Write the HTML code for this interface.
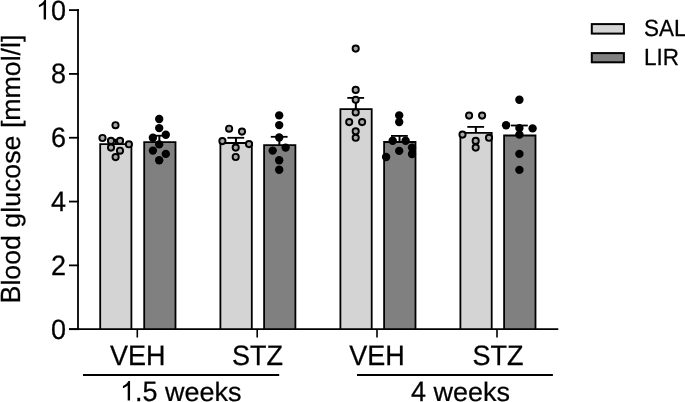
<!DOCTYPE html>
<html><head><meta charset="utf-8"><style>
html,body{margin:0;padding:0;background:#fff;}
body{width:685px;height:402px;overflow:hidden;}
svg{display:block;filter:blur(0.3px);text-rendering:geometricPrecision;}
text{font-family:"Liberation Sans",sans-serif;fill:#000;stroke:#000;stroke-width:0.25px;}
</style></head><body>
<svg width="685" height="402" viewBox="0 0 685 402">
<rect x="100.20" y="144.20" width="31.20" height="185.00" fill="#d4d4d4"/>
<path d="M100.20 329.20V144.20H131.40V329.20" fill="none" stroke="#000" stroke-width="1.8"/>
<rect x="144.20" y="142.10" width="31.30" height="187.10" fill="#808080"/>
<path d="M144.20 329.20V142.10H175.50V329.20" fill="none" stroke="#000" stroke-width="1.8"/>
<rect x="220.40" y="143.00" width="31.40" height="186.20" fill="#d4d4d4"/>
<path d="M220.40 329.20V143.00H251.80V329.20" fill="none" stroke="#000" stroke-width="1.8"/>
<rect x="264.10" y="145.20" width="31.30" height="184.00" fill="#808080"/>
<path d="M264.10 329.20V145.20H295.40V329.20" fill="none" stroke="#000" stroke-width="1.8"/>
<rect x="340.40" y="109.20" width="31.30" height="220.00" fill="#d4d4d4"/>
<path d="M340.40 329.20V109.20H371.70V329.20" fill="none" stroke="#000" stroke-width="1.8"/>
<rect x="384.10" y="142.00" width="31.40" height="187.20" fill="#808080"/>
<path d="M384.10 329.20V142.00H415.50V329.20" fill="none" stroke="#000" stroke-width="1.8"/>
<rect x="460.40" y="132.90" width="31.30" height="196.30" fill="#d4d4d4"/>
<path d="M460.40 329.20V132.90H491.70V329.20" fill="none" stroke="#000" stroke-width="1.8"/>
<rect x="504.10" y="135.50" width="31.40" height="193.70" fill="#808080"/>
<path d="M504.10 329.20V135.50H535.50V329.20" fill="none" stroke="#000" stroke-width="1.8"/>
<line x1="115.75" y1="139.70" x2="115.75" y2="144.30" stroke="#000" stroke-width="2.0"/>
<line x1="107.20" y1="139.70" x2="124.00" y2="139.70" stroke="#000" stroke-width="1.8"/>
<line x1="159.35" y1="135.70" x2="159.35" y2="142.20" stroke="#000" stroke-width="2.0"/>
<line x1="150.80" y1="135.70" x2="167.60" y2="135.70" stroke="#000" stroke-width="1.8"/>
<line x1="235.95" y1="137.80" x2="235.95" y2="143.10" stroke="#000" stroke-width="2.0"/>
<line x1="227.40" y1="137.80" x2="244.20" y2="137.80" stroke="#000" stroke-width="1.8"/>
<line x1="279.35" y1="136.80" x2="279.35" y2="145.30" stroke="#000" stroke-width="2.0"/>
<line x1="270.80" y1="136.80" x2="287.60" y2="136.80" stroke="#000" stroke-width="1.8"/>
<line x1="355.85" y1="97.90" x2="355.85" y2="109.30" stroke="#000" stroke-width="2.0"/>
<line x1="347.30" y1="97.90" x2="364.10" y2="97.90" stroke="#000" stroke-width="1.8"/>
<line x1="399.55" y1="135.90" x2="399.55" y2="142.10" stroke="#000" stroke-width="2.0"/>
<line x1="391.00" y1="135.90" x2="407.80" y2="135.90" stroke="#000" stroke-width="1.8"/>
<line x1="475.85" y1="126.90" x2="475.85" y2="133.00" stroke="#000" stroke-width="2.0"/>
<line x1="467.30" y1="126.90" x2="484.10" y2="126.90" stroke="#000" stroke-width="1.8"/>
<line x1="519.55" y1="125.50" x2="519.55" y2="135.60" stroke="#000" stroke-width="2.0"/>
<line x1="511.00" y1="125.50" x2="527.80" y2="125.50" stroke="#000" stroke-width="1.8"/>
<circle cx="115.50" cy="125.20" r="3.1" fill="#a6a6a6" stroke="#000" stroke-width="1.9"/>
<circle cx="102.50" cy="138.00" r="3.1" fill="#a6a6a6" stroke="#000" stroke-width="1.9"/>
<circle cx="111.00" cy="140.90" r="3.1" fill="#a6a6a6" stroke="#000" stroke-width="1.9"/>
<circle cx="120.00" cy="140.90" r="3.1" fill="#a6a6a6" stroke="#000" stroke-width="1.9"/>
<circle cx="128.90" cy="144.30" r="3.1" fill="#a6a6a6" stroke="#000" stroke-width="1.9"/>
<circle cx="111.00" cy="147.60" r="3.1" fill="#a6a6a6" stroke="#000" stroke-width="1.9"/>
<circle cx="120.00" cy="150.70" r="3.1" fill="#a6a6a6" stroke="#000" stroke-width="1.9"/>
<circle cx="115.60" cy="157.10" r="3.1" fill="#a6a6a6" stroke="#000" stroke-width="1.9"/>
<circle cx="159.20" cy="119.00" r="4.2" fill="#000"/>
<circle cx="159.20" cy="128.10" r="4.2" fill="#000"/>
<circle cx="165.80" cy="134.80" r="4.2" fill="#000"/>
<circle cx="152.90" cy="137.70" r="4.2" fill="#000"/>
<circle cx="159.20" cy="144.40" r="4.2" fill="#000"/>
<circle cx="152.90" cy="150.60" r="4.2" fill="#000"/>
<circle cx="165.80" cy="153.90" r="4.2" fill="#000"/>
<circle cx="159.20" cy="160.30" r="4.2" fill="#000"/>
<circle cx="229.10" cy="128.70" r="3.1" fill="#a6a6a6" stroke="#000" stroke-width="1.9"/>
<circle cx="242.00" cy="131.60" r="3.1" fill="#a6a6a6" stroke="#000" stroke-width="1.9"/>
<circle cx="222.40" cy="141.10" r="3.1" fill="#a6a6a6" stroke="#000" stroke-width="1.9"/>
<circle cx="249.00" cy="144.10" r="3.1" fill="#a6a6a6" stroke="#000" stroke-width="1.9"/>
<circle cx="235.70" cy="147.60" r="3.1" fill="#a6a6a6" stroke="#000" stroke-width="1.9"/>
<circle cx="235.70" cy="157.00" r="3.1" fill="#a6a6a6" stroke="#000" stroke-width="1.9"/>
<circle cx="279.20" cy="115.40" r="4.2" fill="#000"/>
<circle cx="279.20" cy="125.10" r="4.2" fill="#000"/>
<circle cx="279.20" cy="137.50" r="4.2" fill="#000"/>
<circle cx="285.60" cy="147.60" r="4.2" fill="#000"/>
<circle cx="272.70" cy="150.60" r="4.2" fill="#000"/>
<circle cx="279.20" cy="160.30" r="4.2" fill="#000"/>
<circle cx="279.20" cy="169.80" r="4.2" fill="#000"/>
<circle cx="355.70" cy="48.60" r="3.1" fill="#a6a6a6" stroke="#000" stroke-width="1.9"/>
<circle cx="355.70" cy="89.90" r="3.1" fill="#a6a6a6" stroke="#000" stroke-width="1.9"/>
<circle cx="355.70" cy="99.80" r="3.1" fill="#a6a6a6" stroke="#000" stroke-width="1.9"/>
<circle cx="355.70" cy="112.40" r="3.1" fill="#a6a6a6" stroke="#000" stroke-width="1.9"/>
<circle cx="349.20" cy="122.10" r="3.1" fill="#a6a6a6" stroke="#000" stroke-width="1.9"/>
<circle cx="362.10" cy="122.10" r="3.1" fill="#a6a6a6" stroke="#000" stroke-width="1.9"/>
<circle cx="355.70" cy="131.30" r="3.1" fill="#a6a6a6" stroke="#000" stroke-width="1.9"/>
<circle cx="355.70" cy="137.80" r="3.1" fill="#a6a6a6" stroke="#000" stroke-width="1.9"/>
<circle cx="399.20" cy="115.40" r="4.2" fill="#000"/>
<circle cx="399.20" cy="122.10" r="4.2" fill="#000"/>
<circle cx="392.70" cy="140.80" r="4.2" fill="#000"/>
<circle cx="405.60" cy="140.80" r="4.2" fill="#000"/>
<circle cx="412.00" cy="147.60" r="4.2" fill="#000"/>
<circle cx="399.20" cy="150.90" r="4.2" fill="#000"/>
<circle cx="412.00" cy="154.10" r="4.2" fill="#000"/>
<circle cx="386.10" cy="157.00" r="4.2" fill="#000"/>
<circle cx="469.10" cy="115.60" r="3.1" fill="#a6a6a6" stroke="#000" stroke-width="1.9"/>
<circle cx="482.10" cy="115.60" r="3.1" fill="#a6a6a6" stroke="#000" stroke-width="1.9"/>
<circle cx="462.50" cy="134.60" r="3.1" fill="#a6a6a6" stroke="#000" stroke-width="1.9"/>
<circle cx="489.00" cy="137.80" r="3.1" fill="#a6a6a6" stroke="#000" stroke-width="1.9"/>
<circle cx="475.70" cy="140.90" r="3.1" fill="#a6a6a6" stroke="#000" stroke-width="1.9"/>
<circle cx="475.70" cy="147.60" r="3.1" fill="#a6a6a6" stroke="#000" stroke-width="1.9"/>
<circle cx="519.40" cy="99.70" r="4.2" fill="#000"/>
<circle cx="506.10" cy="125.20" r="4.2" fill="#000"/>
<circle cx="519.40" cy="128.10" r="4.2" fill="#000"/>
<circle cx="532.60" cy="128.40" r="4.2" fill="#000"/>
<circle cx="519.40" cy="134.60" r="4.2" fill="#000"/>
<circle cx="519.40" cy="153.90" r="4.2" fill="#000"/>
<circle cx="519.40" cy="169.90" r="4.2" fill="#000"/>
<line x1="78" y1="9.1" x2="78" y2="329.20" stroke="#000" stroke-width="1.8"/>
<line x1="69" y1="329.20" x2="558.3" y2="329.20" stroke="#000" stroke-width="1.8"/>
<line x1="69" y1="329.20" x2="79" y2="329.20" stroke="#000" stroke-width="1.8"/>
<text transform="translate(66.00,338.60) scale(1,1.0405)" text-anchor="end" font-size="27">0</text>
<line x1="69" y1="265.38" x2="79" y2="265.38" stroke="#000" stroke-width="1.8"/>
<text transform="translate(66.00,274.78) scale(1,1.0405)" text-anchor="end" font-size="27">2</text>
<line x1="69" y1="201.56" x2="79" y2="201.56" stroke="#000" stroke-width="1.8"/>
<text transform="translate(66.00,210.96) scale(1,1.0405)" text-anchor="end" font-size="27">4</text>
<line x1="69" y1="137.74" x2="79" y2="137.74" stroke="#000" stroke-width="1.8"/>
<text transform="translate(66.00,147.14) scale(1,1.0405)" text-anchor="end" font-size="27">6</text>
<line x1="69" y1="73.92" x2="79" y2="73.92" stroke="#000" stroke-width="1.8"/>
<text transform="translate(66.00,83.32) scale(1,1.0405)" text-anchor="end" font-size="27">8</text>
<line x1="69" y1="10.10" x2="79" y2="10.10" stroke="#000" stroke-width="1.8"/>
<path d="M 46.04 19.50 L 43.66 19.50 L 43.66 4.38 Q 42.81 5.20 41.41 6.01 Q 40.01 6.83 38.90 7.24 L 38.90 4.95 Q 40.89 4.01 42.38 2.68 Q 43.87 1.35 44.49 0.09 L 46.04 0.09 Z" fill="#000"/>
<text transform="translate(66.00,19.50) scale(1,1.0405)" text-anchor="end" font-size="27">0</text>
<line x1="137.3" y1="329.20" x2="137.3" y2="337.5" stroke="#000" stroke-width="1.6"/>
<line x1="257.2" y1="329.20" x2="257.2" y2="337.5" stroke="#000" stroke-width="1.6"/>
<line x1="377.0" y1="329.20" x2="377.0" y2="337.5" stroke="#000" stroke-width="1.6"/>
<line x1="497.0" y1="329.20" x2="497.0" y2="337.5" stroke="#000" stroke-width="1.6"/>
<text transform="translate(137.70,365.40) scale(1,1.0405)" text-anchor="middle" font-size="27">VEH</text>
<text transform="translate(257.50,365.40) scale(1,1.0405)" text-anchor="middle" font-size="27">STZ</text>
<text transform="translate(377.00,365.40) scale(1,1.0405)" text-anchor="middle" font-size="27">VEH</text>
<text transform="translate(498.00,365.40) scale(1,1.0405)" text-anchor="middle" font-size="27">STZ</text>
<line x1="83" y1="375" x2="279.2" y2="375" stroke="#000" stroke-width="1.8"/>
<line x1="357" y1="375" x2="552.9" y2="375" stroke="#000" stroke-width="1.8"/>
<path d="M 130.06 400.50 L 127.69 400.50 L 127.69 385.38 Q 126.83 386.20 125.43 387.01 Q 124.03 387.83 122.93 388.24 L 122.93 385.95 Q 124.92 385.01 126.41 383.68 Q 127.90 382.35 128.52 381.09 L 130.06 381.09 Z" fill="#000"/>
<text transform="translate(135.02,400.50) scale(1,1.0405)" font-size="27">.5</text>
<text transform="translate(165.04,400.50) scale(1,0.9850)" font-size="27">weeks</text>
<text transform="translate(411.00,400.50) scale(1,1.0405)" font-size="27">4</text>
<text transform="translate(433.52,400.50) scale(1,0.9850)" font-size="27">weeks</text>
<text transform="translate(20.10,303.40) rotate(-90) scale(1,1.0405)" font-size="26.72">B</text>
<text transform="translate(20.10,285.58) rotate(-90) scale(1,0.9850)" font-size="26.72">lood glucose [mmol/l]</text>
<rect x="591.8" y="24.1" width="32.1" height="9.5" fill="#d4d4d4" stroke="#000" stroke-width="2"/>
<rect x="591.8" y="53.1" width="32.1" height="9.2" fill="#808080" stroke="#000" stroke-width="2"/>
<text transform="translate(644.00,36.10) scale(1,1.0405)" font-size="22.5">SAL</text>
<text transform="translate(644.00,64.80) scale(1,1.0405)" font-size="22.5">LIR</text>
</svg>
</body></html>
